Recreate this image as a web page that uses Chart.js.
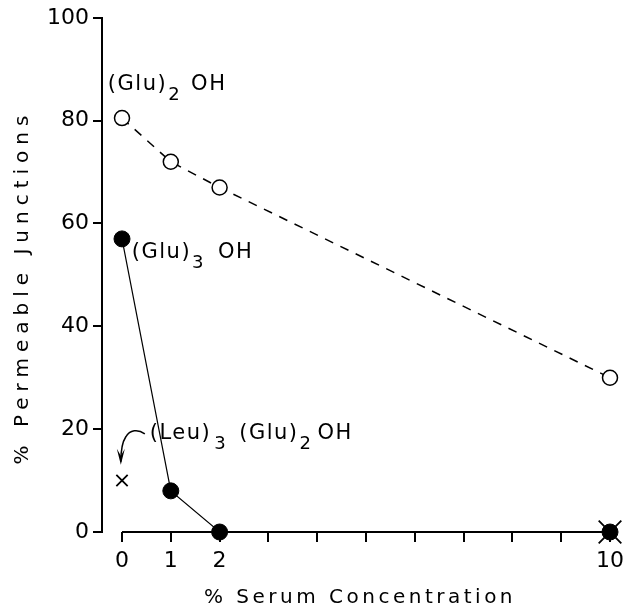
<!DOCTYPE html>
<html>
<head>
<meta charset="utf-8">
<script src="https://cdn.jsdelivr.net/npm/chart.js@4/dist/chart.umd.min.js"></script>
<style>
  html, body { margin: 0; padding: 0; background: #fff; }
  #wrap { width: 630px; height: 611px; }
</style>
</head>
<body>
<div id="wrap"><canvas id="serumChart" width="630" height="611"></canvas></div>
<script>
// dane
const xTicks = [0, 1, 2, 3, 4, 5, 6, 7, 8, 9, 10];
const xLabeled = [0, 1, 2, 10];
const yTicks = [0, 20, 40, 60, 80, 100];

const concGlu2 = [0, 1, 2, 10];
const permGlu2 = [80.5, 72, 67, 30];

const concGlu3 = [0, 1, 2, 10];
const permGlu3 = [57, 8, 0, 0];

const concLeu = [0, 10];
const permLeu = [10, 0];

const FONT = "'DejaVu Sans', sans-serif";

const toPoints = (xs, ys) => xs.map((x, i) => ({ x: x, y: ys[i] }));

// opisy serii (pozycje w jednostkach osi)
const notes = [
  { at: [-0.29, 87], parts: [["(Glu)", 0], ["2", 1, true], ["OH", 10]] },
  { at: [0.2, 54.3], parts: [["(Glu)", 0], ["3", 1, true], ["OH", 13]] },
  { at: [0.57, 19.1], parts: [["(Leu)", 0], ["3", 3, true], ["(Glu)", 12], ["2", 1, true], ["OH", 5]] },
];

const overlay = {
  id: "overlay",
  afterDraw(chart) {
    const { ctx, scales } = chart;
    const xs = scales.x, ys = scales.y;
    ctx.save();
    ctx.strokeStyle = "#000";
    ctx.fillStyle = "#000";

    // os X od 0 do 10
    ctx.lineWidth = 2;
    ctx.beginPath();
    ctx.moveTo(xs.getPixelForValue(0), ys.getPixelForValue(0));
    ctx.lineTo(xs.getPixelForValue(10) + 4, ys.getPixelForValue(0));
    ctx.stroke();

    // podpisy serii
    ctx.textBaseline = "middle";
    ctx.textAlign = "left";
    ctx.letterSpacing = "1.5px";
    notes.forEach((n) => {
      let px = xs.getPixelForValue(n.at[0]);
      const py = ys.getPixelForValue(n.at[1]);
      n.parts.forEach(([txt, gap, sub]) => {
        px += gap;
        ctx.font = (sub ? "18px " : "21px ") + FONT;
        ctx.fillText(txt, px, sub ? py + 11 : py);
        px += ctx.measureText(txt).width;
      });
    });

    // strzalka do punktu (Leu)3 (Glu)2 OH
    const ax = xs.getPixelForValue(0.57), ay = ys.getPixelForValue(19.1);
    ctx.lineWidth = 1.5;
    ctx.beginPath();
    ctx.moveTo(ax - 5, ay);
    ctx.bezierCurveTo(ax - 12, ay - 5, ax - 20, ay - 4, ax - 24, ay + 3);
    ctx.bezierCurveTo(ax - 28, ay + 9, ax - 29, ay + 18, ax - 29, ay + 28);
    ctx.stroke();
    ctx.beginPath();
    ctx.moveTo(ax - 29, ay + 31);
    ctx.lineTo(ax - 33, ay + 15);
    ctx.lineTo(ax - 29, ay + 22);
    ctx.lineTo(ax - 25, ay + 15);
    ctx.closePath();
    ctx.fill();

    // tytuly osi
    ctx.font = "20px " + FONT;
    ctx.textAlign = "center";
    ctx.letterSpacing = "3.5px";
    ctx.fillText("% Serum Concentration", (chart.chartArea.left + chart.chartArea.right) / 2 + 4, 598);
    ctx.translate(23, 287);
    ctx.rotate(-Math.PI / 2);
    ctx.letterSpacing = "6px";
    ctx.fillText("% Permeable Junctions", 0, 0);
    ctx.restore();
  },
};

const ctx = document.getElementById("serumChart").getContext("2d");
const serumChart = new Chart(ctx, {
  type: "scatter",
  data: {
    datasets: [
      {
        label: "(Glu)2 OH",
        data: toPoints(concGlu2, permGlu2),
        showLine: true,
        borderColor: "#000",
        borderWidth: 1.5,
        borderDash: [9, 8],
        pointStyle: "circle",
        pointRadius: 7.5,
        pointBorderWidth: 1.5,
        pointBackgroundColor: "#fff",
        pointBorderColor: "#000",
        clip: false,
      },
      {
        label: "(Glu)3 OH",
        data: toPoints(concGlu3, permGlu3),
        showLine: true,
        borderColor: "#000",
        borderWidth: 1.2,
        pointStyle: "circle",
        pointRadius: 8,
        pointBorderWidth: 1,
        pointBackgroundColor: "#000",
        pointBorderColor: "#000",
        clip: false,
      },
      {
        label: "(Leu)3 (Glu)2 OH",
        data: toPoints(concLeu, permLeu),
        showLine: false,
        pointStyle: "crossRot",
        pointRadius: [8, 16],
        pointBorderWidth: 1.8,
        pointBorderColor: "#000",
        clip: false,
      },
    ],
  },
  options: {
    responsive: false,
    animation: false,
    layout: { padding: { top: 13, right: 18, left: 0, bottom: 0 } },
    plugins: {
      legend: { display: false },
      tooltip: { enabled: false },
    },
    scales: {
      x: {
        type: "linear",
        min: -0.41,
        max: 10,
        afterBuildTicks: (scale) => {
          scale.ticks = xTicks.map((v) => ({ value: v }));
        },
        afterFit: (scale) => {
          scale.height = 79;
        },
        border: { display: false },
        grid: {
          drawOnChartArea: false,
          drawTicks: true,
          tickLength: 10,
          color: "#000",
          lineWidth: 2,
        },
        ticks: {
          autoSkip: false,
          maxRotation: 0,
          padding: 6,
          color: "#000",
          font: { family: FONT, size: 22 },
          callback: (v) => (xLabeled.includes(v) ? String(v) : ""),
        },
      },
      y: {
        type: "linear",
        min: 0,
        max: 100,
        afterBuildTicks: (scale) => {
          scale.ticks = yTicks.map((v) => ({ value: v }));
        },
        afterFit: (scale) => {
          scale.width = 102;
        },
        border: { display: true, color: "#000", width: 2 },
        grid: {
          drawOnChartArea: false,
          drawTicks: true,
          tickLength: 9,
          color: "#000",
          lineWidth: 2,
        },
        ticks: {
          padding: 4,
          color: "#000",
          font: { family: FONT, size: 22 },
        },
      },
    },
  },
  plugins: [overlay],
});
</script>
</body>
</html>
